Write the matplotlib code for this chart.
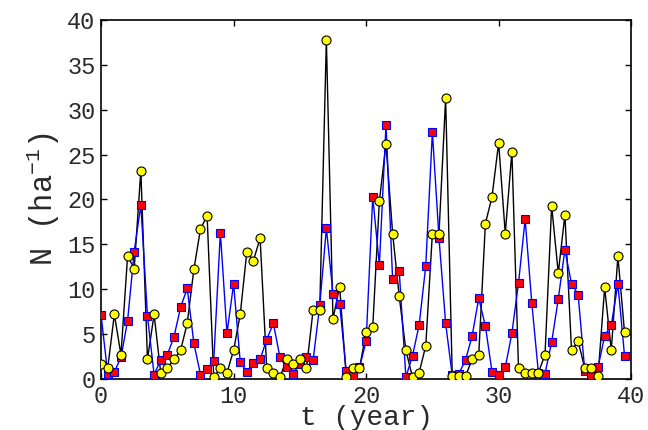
import numpy as np
import matplotlib
matplotlib.use("Agg")
import matplotlib.pyplot as plt

# time in years (half-year steps)
t = np.arange(0, 40, 0.5)

series_blue = [7.1, 0.6, 0.8, 2.4, 6.5, 14.2, 19.4, 7.0, 0.5, 2.1,
               2.7, 4.7, 8.0, 10.1, 4.0, 0.5, 1.1, 2.0, 16.3, 5.1,
               10.6, 1.9, 0.8, 1.8, 2.2, 4.4, 6.2, 2.4, 1.3, 0.6,
               1.7, 2.5, 2.1, 8.2, 16.8, 9.5, 8.4, 0.9, 0.3, 1.3,
               4.2, 20.3, 12.7, 28.3, 11.1, 12.0, 0.2, 2.6, 6.0, 12.6,
               27.5, 15.7, 6.2, 0.4, 0.6, 2.1, 4.8, 9.0, 5.9, 0.8,
               0.5, 1.3, 5.1, 10.7, 17.8, 8.5, 0.7, 0.6, 4.1, 8.9,
               14.4, 10.6, 9.4, 0.9, 0.5, 1.3, 4.8, 6.0, 10.6, 2.6]

series_yellow = [1.7, 1.2, 7.2, 2.7, 13.7, 12.3, 23.2, 2.2, 7.2, 0.7,
                 1.2, 2.2, 3.2, 6.2, 12.2, 16.7, 18.2, 0.2, 1.2, 0.7,
                 3.2, 7.2, 14.2, 13.2, 15.7, 1.2, 0.7, 0.2, 2.2, 1.7,
                 2.2, 1.2, 7.7, 7.7, 37.8, 6.7, 10.3, 0.2, 1.2, 1.2,
                 5.2, 5.8, 19.8, 26.2, 16.2, 9.2, 3.2, 0.2, 0.7, 3.7,
                 16.2, 16.2, 31.3, 0.3, 0.3, 0.3, 2.2, 2.7, 17.3, 20.3,
                 26.3, 16.2, 25.3, 1.2, 0.7, 0.7, 0.7, 2.7, 19.3, 11.8,
                 18.3, 3.2, 4.2, 1.2, 1.2, 0.3, 10.2, 3.2, 13.7, 5.2]

x_ticks = [0, 10, 20, 30, 40]
y_ticks = [0, 5, 10, 15, 20, 25, 30, 35, 40]

plt.rcParams['font.family'] = ['Liberation Mono', 'DejaVu Sans']
plt.rcParams['mathtext.fontset'] = 'custom'
plt.rcParams['mathtext.rm'] = 'Liberation Mono'
plt.rcParams['mathtext.it'] = 'Liberation Mono'
plt.rcParams['mathtext.bf'] = 'Liberation Mono'

fig = plt.figure(figsize=(6.48, 4.30), dpi=100)
ax = fig.add_axes([0.156, 0.1186, 0.818, 0.835])

ax.plot(t, series_yellow, '-', color='black', lw=1.0, zorder=2)
ax.plot(t, series_blue, '-', color='blue', lw=1.0, zorder=3)
ax.plot(t, series_blue, 's', ls='none', markerfacecolor='red',
        markeredgecolor='blue', markeredgewidth=0.8, markersize=6.0, zorder=4)
ax.plot(t, series_yellow, 'o', ls='none', markerfacecolor='yellow',
        markeredgecolor='black', markeredgewidth=0.8, markersize=6.5, zorder=5)

ax.set_xlim(0, 40)
ax.set_ylim(0, 40)
ax.set_xticks(x_ticks)
ax.set_yticks(y_ticks)
ax.tick_params(direction='in', length=4, width=1, top=True, right=True,
               labelsize=17, labelcolor='#2a2a2a', pad=4)
for s in ax.spines.values():
    s.set_linewidth(1.2)

ax.set_xlabel('t (year)', fontsize=20, color='#2a2a2a', labelpad=-2)
ax.set_ylabel('N (ha$^{-1}$)', fontsize=22, color='#2a2a2a', labelpad=4)

fig.savefig('out.png', dpi=100)
